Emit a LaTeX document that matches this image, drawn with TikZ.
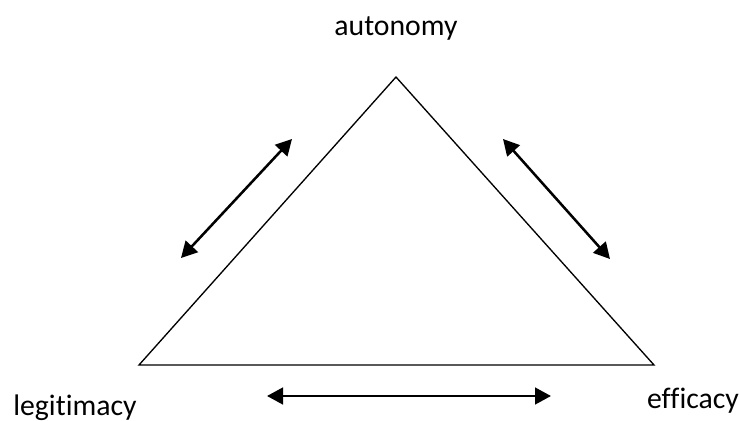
\documentclass[tikz,border=0pt]{standalone}
\usepackage{fontspec}
\setmainfont{Carlito}[Ligatures=NoCommon]
\usetikzlibrary{arrows.meta}

\begin{document}
\begin{tikzpicture}[
    x=0.75pt, y=-0.75pt,
    >={Triangle[length=12pt, width=12.5pt]},
    lab/.style={font=\fontsize{22.3}{26}\selectfont, anchor=base, inner sep=0pt},
    pair/.style={<->, line width=1.9pt, black},
]
% page in pixel units (origin top left)
\useasboundingbox (0,0) rectangle (740,421);

% corners of the triangle
\coordinate (top)   at (396,77);
\coordinate (left)  at (139,365);
\coordinate (right) at (654,365);
\draw[line width=1pt, line join=miter] (top) -- (left) -- (right) -- cycle;

% corner labels
\node[lab] (aut) at (396,36)  {autonomy};
\node[lab] (leg) at (75,415)  {legitimacy};
\node[lab] (eff) at (693,408) {efficacy};

% arrow ends
\coordinate (la) at (181,258);
\coordinate (lb) at (292,139);
\coordinate (ra) at (503,139);
\coordinate (rb) at (610,259);
\coordinate (ba) at (267,396);
\coordinate (bb) at (551,396);

% two-way links along the sides
\draw[pair] (la) -- (lb);
\draw[pair] (ra) -- (rb);
\draw[pair] (ba) -- (bb);

\end{tikzpicture}
\end{document}
